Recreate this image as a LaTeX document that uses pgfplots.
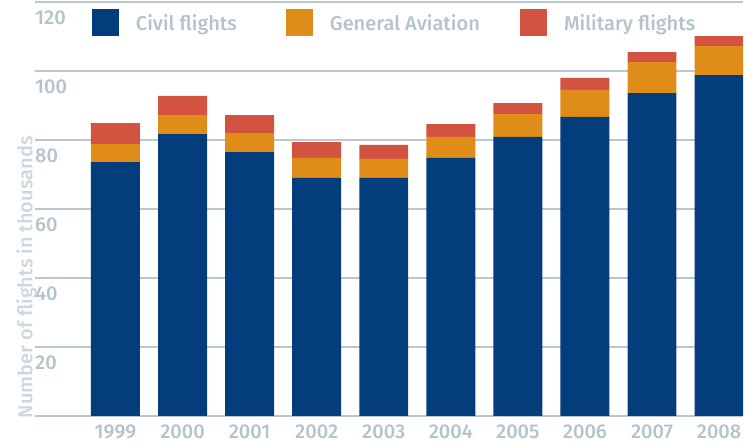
\documentclass[border=0pt]{standalone}
\usepackage{pgfplots}
\pgfplotsset{compat=1.18}
\usepackage{pgfplotstable}
\usepackage{fontspec}
\setmainfont{Fira Sans Medium}
\usetikzlibrary{calc}

\definecolor{civil}{RGB}{3,61,124}
\definecolor{genav}{RGB}{224,140,24}
\definecolor{milit}{RGB}{210,84,64}
\definecolor{textgrey}{RGB}{180,195,204}
\definecolor{gridgrey}{RGB}{185,199,207}
\definecolor{labelgrey}{RGB}{205,215,222}

% flights in thousands
\pgfplotstableread{
x civil ga mil
0 73.6 5.2 6.1
1 81.7 5.5 5.6
2 76.5 5.5 5.2
3 69.0 5.8 4.6
4 69.0 5.5 4.1
5 74.8 6.1 3.7
6 80.9 6.6 3.2
7 86.7 7.8 3.5
8 93.6 9.0 2.9
9 98.8 8.4 2.9
}\flights

\pgfplotsset{sq legend/.style={legend image code/.code={\fill[##1] (0pt,-13pt) rectangle (27pt,14pt);}}}

\begin{document}
\begin{tikzpicture}
\begin{axis}[
  scale only axis, width=708pt, height=414pt,
  ybar stacked, bar width=0.73,
  xmin=-1.2, xmax=9.357, ymin=0, ymax=120,
  xtick={0,...,9},
  xticklabels={1999,2000,2001,2002,2003,2004,2005,2006,2007,2008},
  ytick={0,20,...,120},
  yticklabels={{},20,40,60,80,100,120},
  ymajorgrids, grid style={gridgrey, line width=2.5pt},
  axis line style={draw=none}, major tick length=0pt,
  tick label style={font=\fontsize{20}{24}\selectfont, text=textgrey},
  xticklabel style={yshift=-5pt},
  yticklabel style={anchor=west, inner sep=0pt, yshift=-16pt},
  /pgf/number format/assume math mode=true,
  ylabel={Number of flights in thousands},
  ylabel style={at={(axis description cs:-0.012,0.335)}, anchor=center,
    font=\fontsize{20}{24}\selectfont, text=labelgrey},
  every axis plot post/.append style={sq legend},
  legend columns=3,
  legend style={at={(axis description cs:0.0805,0.983)}, anchor=north west,
    draw=none, fill=none, inner sep=0pt, outer sep=0pt,
    nodes={inner sep=0pt}, column sep=0pt,
    font=\fontsize{20}{24}\selectfont, text=textgrey},
  legend cell align=left,
]
\addplot[fill=civil, draw=none] table[x=x, y=civil] {\flights};
\addlegendentry{\makebox[167pt][l]{\hspace{17pt}Civil flights}}
\addplot[fill=genav, draw=none] table[x=x, y=ga] {\flights};
\addlegendentry{\makebox[207pt][l]{\hspace{17pt}General Aviation}}
\addplot[fill=milit, draw=none] table[x=x, y=mil] {\flights};
\addlegendentry{\hspace{17pt}Military flights}
\end{axis}
\pgfresetboundingbox
\path ($(current axis.south west)+(-35pt,-30pt)$) rectangle ($(current axis.north east)+(11pt,2pt)$);
\end{tikzpicture}
\end{document}
